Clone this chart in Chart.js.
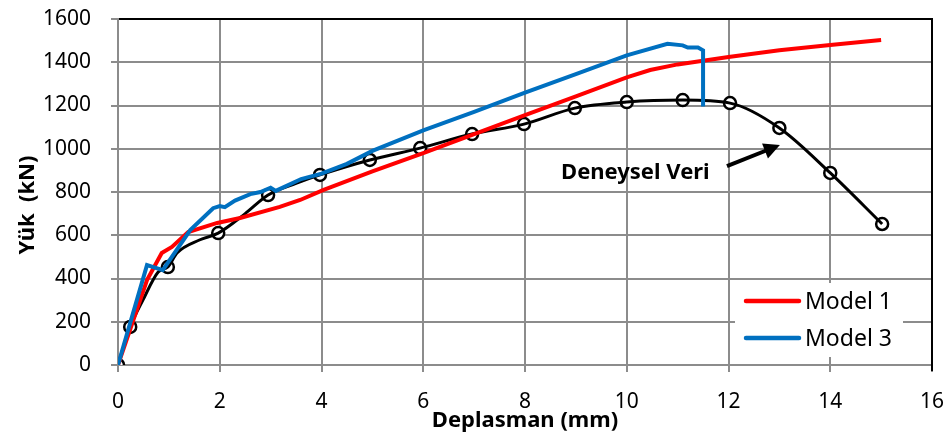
<!DOCTYPE html>
<html>
<head>
<meta charset="utf-8">
<script src="https://cdn.jsdelivr.net/npm/chart.js@4.4.1/dist/chart.umd.min.js"></script>
<style>
  html, body { margin: 0; padding: 0; background: #fff; }
  #wrap { width: 952px; height: 439px; }
</style>
</head>
<body>
<div id="wrap"><canvas id="yukChart" width="952" height="439"></canvas></div>
<script>
// Eksen ayarlari
const xTicks = [0, 2, 4, 6, 8, 10, 12, 14, 16];
const yTicks = [0, 200, 400, 600, 800, 1000, 1200, 1400, 1600];

// Model 1 (kirmizi)
const model1X = [0, 0.57, 0.86, 1.06, 1.38, 1.95, 2.4, 3.18, 3.58, 4.03, 5, 6, 7, 8, 9, 10, 10.46, 11, 12, 13, 14, 15];
const model1Y = [0, 393, 518, 546, 615, 657, 680, 731, 763, 809, 895, 980, 1068, 1156, 1242, 1330, 1364, 1390, 1424, 1455, 1480, 1503];

// Model 3 (mavi)
const model3X = [0, 0.57, 0.88, 1.42, 1.87, 2.0, 2.1, 2.3, 2.6, 2.8, 3.0, 3.1, 3.6, 4.0, 4.5, 5, 6, 7, 8, 9, 10, 10.8, 11.1, 11.2, 11.4, 11.5, 11.5];
const model3Y = [0, 462, 439, 624, 725, 735, 730, 760, 790, 800, 820, 805, 860, 885, 930, 990, 1085, 1170, 1260, 1345, 1432, 1485, 1478, 1468, 1468, 1455, 1195];

// Deneysel veri: egri ve isaretli noktalar
const deneyselX = [0, 0.24, 0.49, 0.79, 0.98, 1.16, 1.6, 1.97, 2.5, 2.95, 3.5, 3.97, 4.95, 5.94, 6.96, 7.98, 8.98, 10, 11.1, 12.03, 13, 14, 15.02];
const deneyselY = [0, 176, 300, 430, 453, 518, 578, 610, 700, 786, 840, 879, 948, 1003, 1068, 1114, 1188, 1216, 1225, 1211, 1096, 888, 652];
const isaretX = [0, 0.24, 0.98, 1.97, 2.95, 3.97, 4.95, 5.94, 6.96, 7.98, 8.98, 10, 11.1, 12.03, 13, 14, 15.02];
const isaretY = [0, 176, 453, 610, 786, 879, 948, 1003, 1068, 1114, 1188, 1216, 1225, 1211, 1096, 888, 652];

const pts = (xs, ys) => xs.map((x, i) => ({ x: x, y: ys[i] }));

const FONT = "'Noto Sans', 'Open Sans', sans-serif";
const GRID = '#8c8c8c';

// Etiket, ok, cerceve, y ekseni basligi ve lejant
const etiketPlugin = {
  id: 'etiket',
  afterDatasetsDraw(chart) {
    const c = chart.ctx, xs = chart.scales.x, ys = chart.scales.y;
    const area = chart.chartArea;
    c.save();

    // Ust ve sag cerceve
    c.strokeStyle = '#000';
    c.lineWidth = 2;
    c.beginPath();
    c.moveTo(area.left + 1, area.top);
    c.lineTo(area.right, area.top);
    c.lineTo(area.right, area.bottom + 6);
    c.stroke();

    c.font = 'bold 22px ' + FONT;
    c.fillStyle = '#000';
    c.textAlign = 'right';
    c.textBaseline = 'middle';
    c.fillText('Deneysel Veri', xs.getPixelForValue(11.63), ys.getPixelForValue(888));

    const x1 = xs.getPixelForValue(11.97), y1 = ys.getPixelForValue(920);
    const x2 = xs.getPixelForValue(13.01), y2 = ys.getPixelForValue(1017);
    const a = Math.atan2(y2 - y1, x2 - x1);
    c.lineWidth = 4;
    c.beginPath();
    c.moveTo(x1, y1);
    c.lineTo(x2 - 10 * Math.cos(a), y2 - 10 * Math.sin(a));
    c.stroke();
    c.beginPath();
    c.moveTo(x2, y2);
    c.lineTo(x2 - 16 * Math.cos(a) + 8 * Math.sin(a), y2 - 16 * Math.sin(a) - 8 * Math.cos(a));
    c.lineTo(x2 - 16 * Math.cos(a) - 8 * Math.sin(a), y2 - 16 * Math.sin(a) + 8 * Math.cos(a));
    c.closePath();
    c.fill();

    // Y ekseni basligi
    c.save();
    c.translate(28, 205);
    c.rotate(-Math.PI / 2);
    c.textAlign = 'center';
    c.fillText('Yük  (kN)', 0, 0);
    c.restore();

    // Lejant kutusu
    c.fillStyle = '#fff';
    c.fillRect(735, 283, 168, 74);
    const items = [chart.data.datasets[0], chart.data.datasets[1]];
    c.font = '23px ' + FONT;
    c.textAlign = 'left';
    items.forEach((ds, i) => {
      const y = 301 + i * 37;
      c.strokeStyle = ds.borderColor;
      c.lineWidth = 4.5;
      c.lineCap = 'round';
      c.beginPath();
      c.moveTo(746, y);
      c.lineTo(799, y);
      c.stroke();
      c.fillStyle = '#000';
      c.fillText(ds.label, 805, y + 1);
    });
    c.restore();
  }
};

new Chart(document.getElementById('yukChart'), {
  type: 'line',
  data: {
    datasets: [
      {
        label: 'Model 1',
        data: pts(model1X, model1Y),
        borderColor: '#ff0000',
        borderWidth: 4,
        pointRadius: 0,
        tension: 0,
        order: 1
      },
      {
        label: 'Model 3',
        data: pts(model3X, model3Y),
        borderColor: '#0070c0',
        borderWidth: 4,
        pointRadius: 0,
        tension: 0,
        order: 0
      },
      {
        label: 'Deneysel',
        data: pts(deneyselX, deneyselY),
        borderColor: '#000',
        borderWidth: 3,
        pointRadius: 0,
        cubicInterpolationMode: 'monotone',
        order: 2
      },
      {
        label: 'Deneysel noktalar',
        data: pts(isaretX, isaretY),
        showLine: false,
        pointStyle: 'circle',
        pointRadius: 6,
        pointBorderWidth: 2.5,
        pointBackgroundColor: '#fff',
        pointBorderColor: '#000',
        order: 2
      }
    ]
  },
  options: {
    responsive: false,
    animation: false,
    layout: { padding: { left: 0, top: 19, right: 20, bottom: 0 } },
    plugins: { legend: { display: false }, tooltip: { enabled: false } },
    scales: {
      x: {
        type: 'linear',
        min: 0, max: 16,
        afterBuildTicks: s => { s.ticks = xTicks.map(v => ({ value: v })); },
        afterFit: s => { s.height = 74; s.paddingLeft = 0; s.paddingRight = 0; },
        grid: { color: GRID, lineWidth: 2, tickLength: 7 },
        border: { color: GRID, width: 2 },
        ticks: { color: '#000', font: { family: FONT, size: 21 }, padding: 17, callback: v => String(v) },
        title: {
          display: true, text: 'Deplasman (mm)', color: '#000',
          font: { family: FONT, size: 22, weight: 'bold' }, padding: { top: 0, bottom: 5 }
        }
      },
      y: {
        min: 0, max: 1600,
        afterBuildTicks: s => { s.ticks = yTicks.map(v => ({ value: v })); },
        afterFit: s => { s.width = 118; s.paddingTop = 0; s.paddingBottom = 0; },
        grid: { color: GRID, lineWidth: 2, tickLength: 7 },
        border: { color: GRID, width: 2 },
        ticks: { color: '#000', font: { family: FONT, size: 21 }, padding: 20, callback: v => String(v) }
      }
    }
  },
  plugins: [etiketPlugin]
});
</script>
</body>
</html>
